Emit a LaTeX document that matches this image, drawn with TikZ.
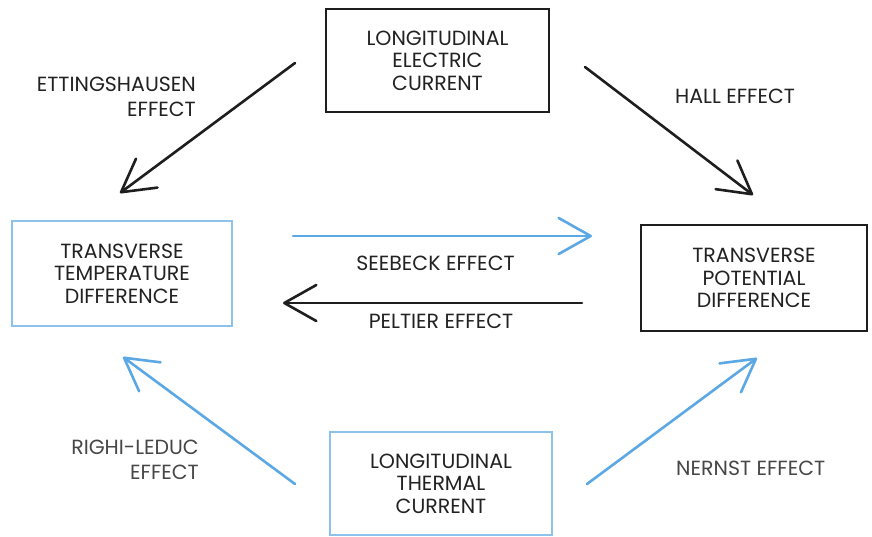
\documentclass[tikz,border=0pt]{standalone}
\usepackage{fontspec}
\setmainfont{Poppins}
\usetikzlibrary{arrows.meta}
\definecolor{inkblack}{HTML}{1E1E1E}
\definecolor{textgray}{HTML}{222222}
\definecolor{heatblue}{HTML}{5BA8E4}
\definecolor{boxblue}{HTML}{8DC3EA}
\tikzset{
  box/.style={draw, line width=1.6pt, minimum width=#1, inner sep=0pt,
    align=center, text=textgray, font=\fontsize{20.5}{22.5}\selectfont},
  box/.default=222pt,
  label/.style={inner sep=0pt, text=textgray, font=\fontsize{20.5}{24.5}\selectfont},
  effect/.style={line width=2.6pt, line cap=round,
    -{Straight Barb[length=32pt,width=36pt,round]}},
}
\begin{document}
\begin{tikzpicture}[x=1pt,y=-1pt]
\useasboundingbox (0,0) rectangle (872,536);
\fill[white] (0,0) rectangle (872,536);

% the four quantities
\node[box=223pt, minimum height=103pt, draw=inkblack] (lec) at (437.5,60.5)
  {LONGITUDINAL\\ELECTRIC\\CURRENT};
\node[box=220pt, minimum height=105pt, draw=boxblue] (ttd) at (122,273.5)
  {TRANSVERSE\\TEMPERATURE\\DIFFERENCE};
\node[box=226pt, minimum height=106pt, draw=inkblack] (tpd) at (754,278)
  {TRANSVERSE\\POTENTIAL\\DIFFERENCE};
\node[box=222pt, minimum height=103pt, draw=boxblue] (ltc) at (441,483.5)
  {LONGITUDINAL\\THERMAL\\CURRENT};

% arrow end points
\coordinate (ettA) at (295,63);  \coordinate (ettB) at (120,193);
\coordinate (halA) at (585,67);  \coordinate (halB) at (753,195);
\coordinate (seeA) at (293,236); \coordinate (seeB) at (592,236);
\coordinate (pelA) at (582,303); \coordinate (pelB) at (283,303);
\coordinate (rigA) at (295,484); \coordinate (rigB) at (123,357);
\coordinate (nerA) at (587,484); \coordinate (nerB) at (757,358);

% electric effects
\draw[effect, draw=inkblack] (ettA) -- (ettB);
\draw[effect, draw=inkblack] (halA) -- (halB);
\draw[effect, draw=inkblack] (pelA) -- (pelB);
% thermal effects
\draw[effect, draw=heatblue] (seeA) -- (seeB);
\draw[effect, draw=heatblue] (rigA) -- (rigB);
\draw[effect, draw=heatblue] (nerA) -- (nerB);

% effect names
\node[label, align=right, anchor=north east] (ettL) at (196,77) {ETTINGSHAUSEN\\EFFECT};
\node[label, anchor=base west] (halL) at (675,103) {HALL EFFECT};
\node[label, anchor=base] (seeL) at (435.5,270) {SEEBECK EFFECT};
\node[label, anchor=base] (pelL) at (441,328) {PELTIER EFFECT};
\node[label, align=right, anchor=north east, text=black!72] (rigL) at (199,440) {RIGHI-LEDUC\\EFFECT};
\node[label, anchor=base west, text=black!72] (nerL) at (676,475) {NERNST EFFECT};
\end{tikzpicture}
\end{document}
